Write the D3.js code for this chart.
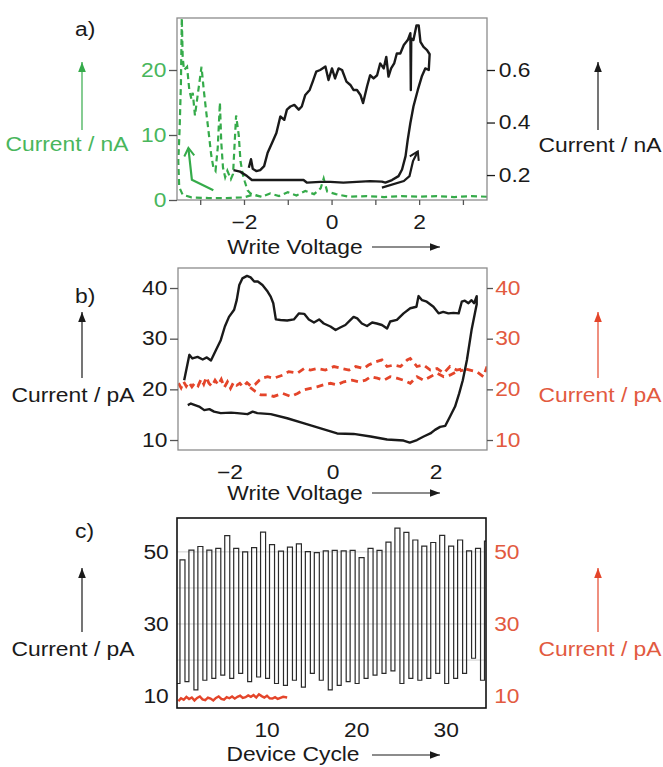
<!DOCTYPE html>
<html><head><meta charset="utf-8">
<script src="https://cdn.jsdelivr.net/npm/d3@7"></script>
<style>body{margin:0;background:#fff} text{font-family:"Liberation Sans",Arial,sans-serif}</style>
</head><body><svg id="chart" width="663" height="767"></svg>
<script>
// ---------- DATA ----------
// Panel a: write voltage (V) vs current; black = right axis (nA), green dashed = left axis (nA)
const aBlack = [[-2.24,0.219],[-2.09,0.213],[-1.93,0.196],[-1.82,0.181],[-1.40,0.181],[-0.64,0.181],[-0.56,0.171],[-0.26,0.174],[-0.03,0.174],[0.27,0.171],[0.88,0.177],[1.15,0.175],[1.23,0.171],[1.38,0.181],[1.53,0.196],[1.61,0.221],[1.69,0.272],[1.74,0.335],[1.80,0.398],[1.87,0.461],[1.97,0.524],[2.06,0.575],[2.14,0.606],[2.22,0.600],[2.24,0.660],[2.18,0.676],[2.10,0.688],[2.03,0.707],[1.99,0.770],[1.94,0.770],[1.87,0.714],[1.82,0.720],[1.81,0.524],[1.80,0.740],[1.74,0.714],[1.65,0.695],[1.57,0.663],[1.49,0.663],[1.43,0.625],[1.36,0.606],[1.30,0.575],[1.25,0.650],[1.19,0.606],[1.11,0.625],[1.04,0.580],[0.96,0.568],[0.88,0.580],[0.81,0.537],[0.72,0.474],[0.66,0.505],[0.58,0.524],[0.50,0.524],[0.43,0.543],[0.34,0.556],[0.24,0.600],[0.16,0.606],[0.08,0.568],[0.01,0.606],[-0.07,0.562],[-0.14,0.613],[-0.26,0.600],[-0.35,0.594],[-0.43,0.556],[-0.50,0.524],[-0.60,0.505],[-0.68,0.461],[-0.75,0.449],[-0.85,0.467],[-0.94,0.461],[-1.02,0.449],[-1.08,0.410],[-1.17,0.423],[-1.26,0.360],[-1.36,0.322],[-1.46,0.285],[-1.54,0.234],[-1.63,0.219],[-1.72,0.215],[-1.80,0.224],[-1.84,0.260],[-1.89,0.228]];
const aGreen = [[3.55,0.5],[3.2,0.6],[2.8,0.45],[2.4,0.6],[2.0,0.5],[1.6,0.6],[1.2,0.45],[0.8,0.6],[0.4,0.5],[0.1,0.9],[-0.1,1.3],[-0.18,3.3],[-0.25,1.8],[-0.4,0.9],[-0.6,1.4],[-0.8,0.7],[-1.0,1.2],[-1.2,0.6],[-1.4,1.0],[-1.6,0.5],[-1.8,0.8],[-2.0,0.4],[-2.4,0.3],[-2.8,0.3],[-3.2,0.4],[-3.4,0.8],[-3.48,2],[-3.5,6],[-3.47,11],[-3.44,18],[-3.42,28],[-3.4,22],[-3.37,20],[-3.3,20.5],[-3.25,17],[-3.2,15.5],[-3.17,16.5],[-3.12,13],[-3.08,15],[-3.02,18],[-2.97,20.5],[-2.92,17],[-2.87,14],[-2.8,10],[-2.75,7],[-2.7,5],[-2.65,4.5],[-2.6,8],[-2.55,15],[-2.52,9],[-2.48,5],[-2.43,3.5],[-2.38,4.5],[-2.3,3.2],[-2.25,4],[-2.18,13],[-2.12,10],[-2.08,6],[-2.03,4],[-1.98,2.8],[-1.92,1.5],[-1.85,1.0],[-1.75,0.8],[-1.6,0.5]];
const aBlackArrow = [[1.15,0.152],[1.65,0.177],[1.78,0.196],[1.86,0.253],[1.97,0.29]];
const aGreenArrow = [[-2.70,1.5],[-3.19,3.1],[-3.27,8.0]];
const aLeftTicks = [0, 10, 20];
const aRightTicks = [0.2, 0.4, 0.6];
const aXTicks = [-3, -2, -1, 0, 1, 2, 3];
const aXLabels = [-2, 0, 2];

// Panel b: black = left axis (pA), red dashed = right axis (pA)
const bBlack = [[-2.81,16.9],[-2.75,17.2],[-2.67,16.9],[-2.59,16.6],[-2.49,15.9],[-2.39,16.1],[-2.30,15.6],[-2.17,15.3],[-1.97,15.4],[-1.85,15.3],[-1.65,15.1],[-1.55,15.6],[-1.46,15.3],[-1.20,15.1],[-0.88,14.3],[-0.55,13.3],[-0.23,12.3],[0.09,11.3],[0.41,11.2],[0.74,10.7],[1.06,10.1],[1.38,9.9],[1.50,9.5],[1.64,10.0],[1.77,10.7],[1.90,11.3],[1.99,12.0],[2.09,12.6],[2.19,12.8],[2.28,14.6],[2.38,16.6],[2.46,19.2],[2.53,21.8],[2.61,25.8],[2.70,31.7],[2.80,36.8],[2.80,38.4],[2.75,37.0],[2.70,37.6],[2.64,37.0],[2.57,37.5],[2.51,37.3],[2.45,35.0],[2.35,35.1],[2.25,35.0],[2.15,35.3],[2.06,35.0],[1.96,36.3],[1.83,37.3],[1.74,37.6],[1.67,38.4],[1.63,36.3],[1.51,36.0],[1.38,35.0],[1.25,33.7],[1.12,33.4],[1.06,32.0],[0.96,32.7],[0.86,33.0],[0.77,33.2],[0.67,32.5],[0.57,33.0],[0.48,34.0],[0.41,34.3],[0.35,33.7],[0.25,32.7],[0.15,32.2],[0.06,31.7],[-0.04,32.4],[-0.17,33.0],[-0.26,33.8],[-0.36,33.2],[-0.46,33.8],[-0.55,34.9],[-0.65,35.0],[-0.75,33.8],[-0.88,33.6],[-1.01,33.7],[-1.10,33.8],[-1.15,37.0],[-1.20,38.3],[-1.26,39.3],[-1.36,40.6],[-1.45,41.3],[-1.52,41.3],[-1.59,42.1],[-1.66,42.4],[-1.75,41.9],[-1.81,40.6],[-1.86,37.6],[-1.91,35.7],[-2.01,34.3],[-2.09,32.4],[-2.17,29.7],[-2.26,27.8],[-2.36,25.7],[-2.44,26.3],[-2.52,25.9],[-2.62,26.4],[-2.72,26.1],[-2.78,26.8],[-2.88,21.8]];
const bRedUpper = [[-2.99,21.2],[-2.94,20.3],[-2.89,21.5],[-2.84,20.6],[-2.79,21.4],[-2.73,20.5],[-2.67,21.3],[-2.61,20.7],[-2.55,22.0],[-2.50,21.0],[-2.45,22.4],[-2.40,21.2],[-2.34,20.6],[-2.28,21.8],[-2.22,20.9],[-2.16,22.0],[-2.10,20.4],[-2.04,21.5],[-1.98,20.2],[-1.92,21.4],[-1.86,20.8],[-1.80,21.2],[-1.74,20.5],[-1.66,21.3],[-1.58,20.6],[-1.50,21.0],[-1.42,21.8],[-1.34,22.3],[-1.26,22.5],[-1.14,22.2],[-0.97,22.8],[-0.85,23.5],[-0.68,23.2],[-0.55,24.1],[-0.43,23.8],[-0.30,24.1],[-0.14,23.8],[0.03,24.5],[0.19,24.1],[0.32,23.8],[0.45,24.5],[0.61,24.1],[0.70,24.8],[0.83,25.4],[0.96,25.8],[1.06,24.5],[1.19,24.8],[1.32,24.5],[1.45,25.8],[1.51,26.1],[1.64,24.5],[1.77,24.8],[1.90,23.8],[2.03,24.1],[2.16,23.2],[2.28,24.5],[2.41,23.8],[2.54,24.1],[2.67,23.8],[2.80,23.5],[2.93,22.5],[3.0,24.5]];
const bRedLower = [[-1.60,20.4],[-1.50,19.6],[-1.39,18.9],[-1.26,18.9],[-1.14,18.6],[-0.97,19.2],[-0.81,18.6],[-0.68,19.2],[-0.55,19.9],[-0.43,20.2],[-0.30,20.5],[-0.17,20.9],[-0.04,21.2],[0.09,20.9],[0.22,21.5],[0.38,21.8],[0.51,21.5],[0.64,21.8],[0.74,22.5],[0.87,22.2],[1.00,21.8],[1.12,22.5],[1.25,22.2],[1.38,21.8],[1.51,21.2],[1.64,22.5],[1.77,21.8],[1.90,22.5],[2.03,23.2],[2.16,22.5],[2.28,22.8],[2.41,23.5],[2.54,23.8]];
const bLeftTicks = [10, 20, 30, 40];
const bRightTicks = [10, 20, 30, 40];
const bXLabels = [-2, 0, 2];

// Panel c: device cycles, high/low read currents (pA)
const cHigh = [47.8,50.5,51.5,50.5,51.0,54.5,51.0,50.0,51.2,55.5,52.0,50.2,51.3,52.2,50.1,49.8,50.3,50.4,50.3,50.4,48.4,51.0,50.4,52.7,56.6,55.4,53.3,51.6,52.6,54.6,51.6,53.3,50.3,51.0,53.0];
const cLow = [13.5,14.0,11.7,14.4,14.9,15.8,14.9,16.3,14.0,15.3,14.9,13.5,13.0,14.4,12.5,16.3,14.4,11.7,13.0,14.0,13.5,14.9,15.8,16.3,17.0,13.5,14.9,14.4,14.9,16.3,13.5,14.9,16.3,20.5,14.4];
const cRedX = [0.15,0.45,0.75,1.05,1.35,1.65,1.95,2.25,2.55,2.85,3.15,3.45,3.75,4.05,4.35,4.65,4.95,5.25,5.55,5.85,6.15,6.45,6.75,7.05,7.35,7.65,7.95,8.25,8.55,8.85,9.15,9.45,9.75,10.05,10.35,10.65,10.95,11.25,11.55,11.85,12.3];
const cRedY = [8.6,9.4,9.0,9.8,9.2,9.6,8.8,9.5,9.9,9.1,8.9,9.6,9.3,8.8,9.5,9.9,9.2,9.0,9.7,9.4,9.9,9.3,9.8,10.1,9.5,9.7,10.2,9.8,10.3,9.6,10.5,10.0,9.6,10.1,9.4,9.3,9.7,9.2,9.5,9.8,9.6];
const cTicks = [10, 30, 50];
const cGrid = [20, 30, 40, 50];
const cXLabels = [10, 20, 30];

// ---------- STYLE ----------
const BLACK = "#1a1a1a", GREEN_L = "#35ab4a", GREEN_T = "#49b65c", RED_L = "#e4452a", RED_T = "#e25a3f";
const FS = "19.5px", SX = 1.17;

const svg = d3.select("#chart");
const defs = svg.append("defs");
function headMarker(id, color, open) {
  const m = defs.append("marker").attr("id", id).attr("viewBox", "-12 -6 14 12")
    .attr("refX", 0).attr("refY", 0).attr("markerWidth", 14).attr("markerHeight", 12)
    .attr("markerUnits", "userSpaceOnUse").attr("orient", "auto");
  if (open) m.append("path").attr("d", "M-8,-5 L0,0 L-8,5").attr("fill", "none").attr("stroke", color).attr("stroke-width", 2);
  else m.append("path").attr("d", "M-10,-3.8 L0,0 L-10,3.8 Z").attr("fill", color);
}
headMarker("hBlack", BLACK); headMarker("hGreen", GREEN_L); headMarker("hRed", RED_L);
headMarker("oBlack", BLACK, true); headMarker("oGreen", GREEN_L, true);

function txt(x, y, s, fill, anchor) {
  svg.append("text").attr("transform", `translate(${x},${y}) scale(${SX},1)`)
    .attr("text-anchor", anchor || "start").attr("fill", fill).style("font-size", FS).text(s);
}
function arrowV(x, y1, y2, color, mk) {
  svg.append("line").attr("x1", x).attr("x2", x).attr("y1", y1).attr("y2", y2)
    .attr("stroke", color).attr("stroke-width", 1.2).attr("marker-end", `url(#${mk})`);
}
function arrowH(x1, x2, y) {
  svg.append("line").attr("x1", x1).attr("x2", x2).attr("y1", y).attr("y2", y)
    .attr("stroke", BLACK).attr("stroke-width", 1.2).attr("marker-end", "url(#hBlack)");
}
function styleAxis(g, color, tickColor) {
  g.select(".domain").remove();
  g.selectAll("line").attr("stroke", tickColor).attr("stroke-width", 1.3);
  g.selectAll("text").attr("fill", color).style("font-size", FS)
    .style("font-family", "'Liberation Sans',Arial,sans-serif").attr("transform", `scale(${SX},1)`);
}
function clip(id, x, y) {
  defs.append("clipPath").attr("id", id).append("rect")
    .attr("x", x.range()[0]).attr("y", y.range()[1])
    .attr("width", x.range()[1] - x.range()[0]).attr("height", y.range()[0] - y.range()[1]);
}
function frame(x, y, color, w) {
  svg.append("rect").attr("x", x.range()[0]).attr("y", y.range()[1])
    .attr("width", x.range()[1] - x.range()[0]).attr("height", y.range()[0] - y.range()[1])
    .attr("fill", "none").attr("stroke", color).attr("stroke-width", w);
}
const fmt = d3.format("");

// ---------- PANEL A ----------
const ax = d3.scaleLinear([-3.53, 3.55], [177, 487]);
const ayL = d3.scaleLinear([0, 28], [200, 18]);
const ayR = d3.scaleLinear([0.105, 0.798], [200, 18]);
clip("clipA", ax, ayL);
const gA = svg.append("g").attr("clip-path", "url(#clipA)");
gA.append("path").datum(aGreen)
  .attr("d", d3.line().x(d => ax(d[0])).y(d => ayL(d[1])))
  .attr("fill", "none").attr("stroke", GREEN_L).attr("stroke-width", 2.2).attr("stroke-dasharray", "6,4");
gA.append("path").datum(aBlack)
  .attr("d", d3.line().x(d => ax(d[0])).y(d => ayR(d[1])))
  .attr("fill", "none").attr("stroke", BLACK).attr("stroke-width", 2.4).attr("stroke-linejoin", "round");
svg.append("path").datum(aBlackArrow)
  .attr("d", d3.line().x(d => ax(d[0])).y(d => ayR(d[1])))
  .attr("fill", "none").attr("stroke", BLACK).attr("stroke-width", 2.2).attr("marker-end", "url(#oBlack)");
svg.append("path").datum(aGreenArrow)
  .attr("d", d3.line().x(d => ax(d[0])).y(d => ayL(d[1])))
  .attr("fill", "none").attr("stroke", GREEN_L).attr("stroke-width", 2.2).attr("marker-end", "url(#oGreen)");
frame(ax, ayL, "#8c8c8c", 1.3);
styleAxis(svg.append("g").attr("transform", "translate(177,0)")
  .call(d3.axisLeft(ayL).tickValues(aLeftTicks).tickSize(8).tickPadding(1).tickFormat(fmt)), GREEN_T, "#555");
styleAxis(svg.append("g").attr("transform", "translate(487,0)")
  .call(d3.axisRight(ayR).tickValues(aRightTicks).tickSize(8).tickPadding(2).tickFormat(d3.format(".1f"))), BLACK, BLACK);
styleAxis(svg.append("g").attr("transform", "translate(0,200)")
  .call(d3.axisBottom(ax).tickValues(aXTicks).tickSize(5).tickPadding(10)
    .tickFormat(d => aXLabels.includes(d) ? d3.format("")(d) : "")), BLACK, "#555");
txt(75, 36, "a)", BLACK);
txt(67, 151, "Current / nA", GREEN_T, "middle");
arrowV(82, 130, 62, GREEN_L, "hGreen");
txt(600, 152, "Current / nA", BLACK, "middle");
arrowV(598, 130, 62, BLACK, "hBlack");
txt(295, 254, "Write Voltage", BLACK, "middle");
arrowH(372, 440, 247);

// ---------- PANEL B ----------
const bx = d3.scaleLinear([-3, 3], [178, 487]);
const by = d3.scaleLinear([8.03, 43.95], [450, 268]);
const byR = d3.scaleLinear([8.03, 43.95], [450, 268]);
clip("clipB", bx, by);
const gB = svg.append("g").attr("clip-path", "url(#clipB)");
[bRedUpper, bRedLower].forEach(s => gB.append("path").datum(s)
  .attr("d", d3.line().x(d => bx(d[0])).y(d => byR(d[1])))
  .attr("fill", "none").attr("stroke", RED_L).attr("stroke-width", 2.8).attr("stroke-dasharray", "7,5"));
gB.append("path").datum(bBlack)
  .attr("d", d3.line().x(d => bx(d[0])).y(d => by(d[1])))
  .attr("fill", "none").attr("stroke", BLACK).attr("stroke-width", 2.4).attr("stroke-linejoin", "round");
frame(bx, by, "#8c8c8c", 1.3);
styleAxis(svg.append("g").attr("transform", "translate(178,0)")
  .call(d3.axisLeft(by).tickValues(bLeftTicks).tickSize(8).tickPadding(1).tickFormat(fmt)), BLACK, "#555");
styleAxis(svg.append("g").attr("transform", "translate(487,0)")
  .call(d3.axisRight(byR).tickValues(bRightTicks).tickSize(6).tickPadding(1).tickFormat(fmt)), RED_T, "#555");
styleAxis(svg.append("g").attr("transform", "translate(0,450)")
  .call(d3.axisBottom(bx).tickValues(bXLabels).tickSize(0).tickPadding(15).tickFormat(fmt)), BLACK, "#555");
txt(75, 303, "b)", BLACK);
txt(73, 402, "Current / pA", BLACK, "middle");
arrowV(82, 378, 312, BLACK, "hBlack");
txt(600, 402, "Current / pA", RED_T, "middle");
arrowV(598, 378, 312, RED_L, "hRed");
txt(295, 500, "Write Voltage", BLACK, "middle");
arrowH(372, 440, 493);

// ---------- PANEL C ----------
const cx = d3.scaleLinear([0, 34.5], [177, 486]);
const cy = d3.scaleLinear([6.7, 59.4], [708, 518]);
const cyR = d3.scaleLinear([6.7, 59.4], [708, 518]);
clip("clipC", cx, cy);
const gC = svg.append("g").attr("clip-path", "url(#clipC)");
gC.selectAll("line.grid").data(cGrid).join("line").attr("class", "grid")
  .attr("x1", cx(0)).attr("x2", cx(34.5)).attr("y1", d => cy(d)).attr("y2", d => cy(d))
  .attr("stroke", "#c9c9c9").attr("stroke-width", 0.9);
// step trace: low before pulse i, rises at cycle i+0.33, falls at i+0.89
const cPts = [[0, cLow[0]]];
cHigh.forEach((h, i) => {
  cPts.push([i + 0.33, h]);
  cPts.push([i + 0.89, i + 1 < cLow.length ? cLow[i + 1] : cLow[i]]);
});
gC.append("path").datum(cPts)
  .attr("d", d3.line().x(d => cx(d[0])).y(d => cy(d[1])).curve(d3.curveStepAfter))
  .attr("fill", "none").attr("stroke", "#2a2a2a").attr("stroke-width", 1.2);
gC.append("path").datum(cRedX.map((x, i) => [x, cRedY[i]]))
  .attr("d", d3.line().x(d => cx(d[0])).y(d => cyR(d[1])))
  .attr("fill", "none").attr("stroke", RED_L).attr("stroke-width", 2.4);
frame(cx, cy, "#111", 1.6);
styleAxis(svg.append("g").attr("transform", "translate(177,0)")
  .call(d3.axisLeft(cy).tickValues(cTicks).tickSize(0).tickPadding(7).tickFormat(fmt)), BLACK, "#555");
styleAxis(svg.append("g").attr("transform", "translate(486,0)")
  .call(d3.axisRight(cyR).tickValues(cTicks).tickSize(0).tickPadding(7).tickFormat(fmt)), RED_T, "#555");
styleAxis(svg.append("g").attr("transform", "translate(0,708)")
  .call(d3.axisBottom(cx).tickValues(cXLabels).tickSize(0).tickPadding(15).tickFormat(fmt)), BLACK, "#555");
txt(75, 538, "c)", BLACK);
txt(73, 656, "Current / pA", BLACK, "middle");
arrowV(82, 632, 568, BLACK, "hBlack");
txt(600, 656, "Current / pA", RED_T, "middle");
arrowV(598, 632, 568, RED_L, "hRed");
txt(293, 761, "Device Cycle", BLACK, "middle");
arrowH(372, 440, 755);
</script></body></html>
